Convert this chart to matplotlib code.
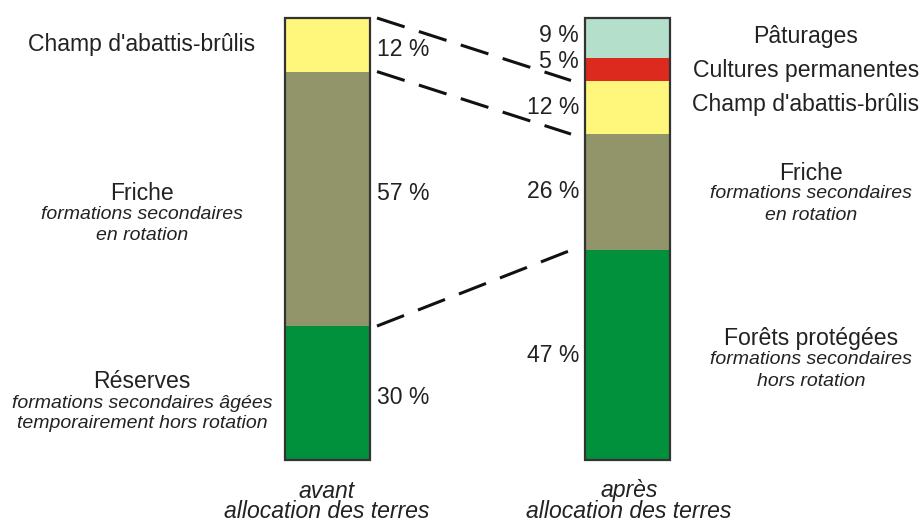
import matplotlib.pyplot as plt

plt.rcParams['font.family'] = ['Liberation Sans', 'DejaVu Sans']

# Répartition des terres (%), de bas en haut
avant_parts = [30, 57, 12]
avant_couleurs = ['#01903c', '#92946a', '#fff67c']
apres_parts = [47, 26, 12, 5, 9]
apres_couleurs = ['#01903c', '#92946a', '#fff67c', '#dc2a1f', '#b3dfcb']

avant_pct = ['30 %', '57 %', '12 %']
apres_pct = ['47 %', '26 %', '12 %', '5 %', '9 %']

W, H = 923, 524
fig = plt.figure(figsize=(W / 100, H / 100), dpi=100)
ax = fig.add_axes([0, 0, 1, 1])

# échelle : 99 % = 442 px de hauteur de barre, base à 460 px
px = 442 / sum(avant_parts)
ax.set_xlim(0, W)
ax.set_ylim(-(H - 460) / px, sum(avant_parts) + 18 / px)
ax.axis('off')

x_avant, x_apres, largeur = 327, 627.5, 85


def empiler(x, parts, couleurs):
    bas = 0
    for p, c in zip(parts, couleurs):
        ax.bar(x, p, bottom=bas, width=largeur, color=c, edgecolor='none', zorder=2)
        bas += p
    ax.bar(x, bas, width=largeur, facecolor='none', edgecolor='#333333',
           linewidth=1.6, zorder=3)


empiler(x_avant, avant_parts, avant_couleurs)
empiler(x_apres, apres_parts, apres_couleurs)

# lignes de correspondance entre les deux barres
cum_av = [sum(avant_parts[:i + 1]) for i in range(len(avant_parts))]
cum_ap = [sum(apres_parts[:i + 1]) for i in range(len(apres_parts))]
liens = [(cum_av[2], cum_ap[2]), (cum_av[1], cum_ap[1]), (cum_av[0], cum_ap[0])]
for ya, yb in liens:
    ax.plot([377, 571], [ya, yb], color='#111111', linewidth=2.2,
            linestyle=(0, (9.5, 4.9)), solid_capstyle='butt', zorder=4)

GRAND, PETIT = 16.6, 14


def txt(x, y, s, size=GRAND, ha='center', style='normal'):
    fig.text(x / W, 1 - y / H, s, fontsize=size, ha=ha, va='center',
             style=style, color='#222222')


# pourcentages
txt(377, 50, avant_pct[2], ha='left')
txt(377, 193, avant_pct[1], ha='left')
txt(377, 398, avant_pct[0], ha='left')
txt(579, 36, apres_pct[4], ha='right')
txt(579, 62, apres_pct[3], ha='right')
txt(579, 107, apres_pct[2], ha='right')
txt(579, 191, apres_pct[1], ha='right')
txt(579, 355, apres_pct[0], ha='right')

# libellés avant
txt(142, 44, "Champ d'abattis-brûlis")
txt(142, 193, 'Friche')
txt(142, 214, 'formations secondaires', size=PETIT, style='italic')
txt(142, 236, 'en rotation', size=PETIT, style='italic')
txt(142, 381, 'Réserves')
txt(142, 403, 'formations secondaires âgées', size=PETIT, style='italic')
txt(142, 424, 'temporairement hors rotation', size=PETIT, style='italic')

# libellés après
txt(806, 37, 'Pâturages')
txt(806, 71, 'Cultures permanentes')
txt(806, 105, "Champ d'abattis-brûlis")
txt(811, 173, 'Friche')
txt(811, 194, 'formations secondaires', size=PETIT, style='italic')
txt(811, 216, 'en rotation', size=PETIT, style='italic')
txt(811, 338, 'Forêts protégées')
txt(811, 360, 'formations secondaires', size=PETIT, style='italic')
txt(811, 381, 'hors rotation', size=PETIT, style='italic')

# légendes sous les barres
txt(327, 491, 'avant', style='italic')
txt(327, 512, 'allocation des terres', style='italic')
txt(629, 491, 'après', style='italic')
txt(629, 512, 'allocation des terres', style='italic')

fig.savefig('out.png', dpi=100)
